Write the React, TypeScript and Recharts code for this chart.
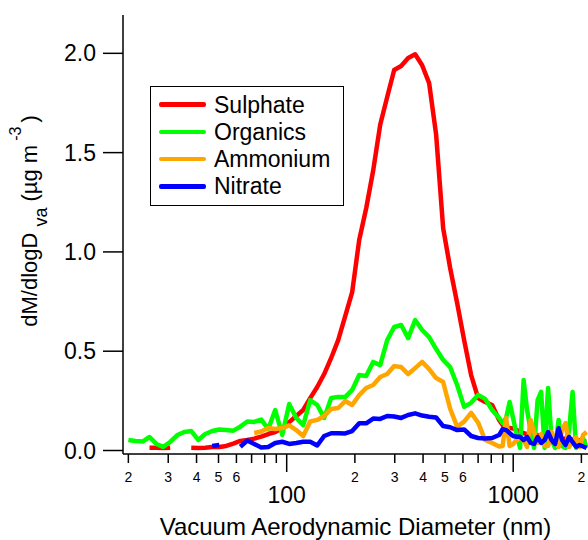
import { LineChart, Line, XAxis, YAxis, Legend, Label } from "recharts";

const FONT = "'Liberation Sans', Arial, Helvetica, sans-serif";

// vacuum aerodynamic diameter bins (nm)
const diameters = [
  20.0, 21.5, 23.1, 24.8, 26.6, 28.5, 30.6, 32.9, 35.3, 37.9,
  40.7, 43.7, 46.9, 50.4, 54.1, 58.1, 62.4, 67.0, 71.9, 77.2,
  82.9, 89.0, 95.6, 102.6, 110.2, 118.3, 127.0, 136.4, 146.4, 157.2,
  168.8, 181.3, 194.6, 209.0, 224.4, 240.9, 258.7, 277.8, 298.2, 320.2,
  343.8, 369.1, 396.3, 425.5, 456.9, 490.6, 526.8, 565.6, 607.3, 652.0,
  700.1, 751.7, 807.1, 866.6, 898.0, 930.5, 964.2, 999.0, 1035.2, 1072.7,
  1111.5, 1151.7, 1193.4, 1236.6, 1281.4, 1327.8, 1375.9, 1425.7, 1477.3, 1530.8,
  1586.2, 1643.6, 1703.1, 1764.8, 1828.7, 1894.9, 1963.5, 2034.6, 2108.3,
];

const sulphate = [
  null, null, null, 0.014, 0.014, 0.012, 0.014, null, null, 0.014,
  0.013, 0.014, 0.018, 0.018, 0.023, 0.035, 0.048, 0.053, 0.06, 0.07,
  0.083, 0.093, 0.113, 0.143, 0.174, 0.204, 0.264, 0.32, 0.385, 0.466,
  0.556, 0.677, 0.798, 1.06, 1.22, 1.41, 1.64, 1.78, 1.916, 1.936,
  1.976, 1.995, 1.94, 1.85, 1.59, 1.12, 0.919, 0.743, 0.556, 0.38,
  0.264, 0.244, 0.229, 0.154, 0.128, 0.118, 0.113, 0.111, 0.103, 0.093,
  0.088, 0.082, 0.085, 0.075, 0.078, 0.07, 0.072, 0.065, 0.068, 0.06,
  0.062, 0.058, 0.06, 0.055, 0.056, 0.05, 0.052, 0.045, 0.047,
];

const organics = [
  0.053, 0.048, 0.045, 0.068, 0.033, 0.018, 0.043, 0.078, 0.093, 0.098,
  0.053, 0.083, 0.098, 0.106, 0.103, 0.1, 0.12, 0.146, 0.144, 0.156,
  0.108, 0.204, 0.078, 0.234, 0.164, 0.128, 0.254, 0.229, 0.164, 0.264,
  0.27, 0.269, 0.305, 0.38, 0.375, 0.446, 0.43, 0.556, 0.622, 0.632,
  0.566, 0.657, 0.607, 0.571, 0.511, 0.456, 0.42, 0.33, 0.22, 0.24,
  0.28, 0.26, 0.204, 0.164, 0.138, 0.164, 0.244, 0.164, 0.078, 0.013,
  0.355, 0.204, 0.103, 0.013, 0.254, 0.295, 0.013, 0.315, 0.053, 0.013,
  0.154, 0.023, 0.013, 0.103, 0.295, 0.013, 0.028, 0.063, 0.013,
];

const ammonium = [
  null, null, null, null, null, null, null, null, null, null,
  null, null, null, null, null, null, null, null, 0.088, 0.096,
  0.113, 0.108, 0.113, 0.126, 0.103, 0.073, 0.146, 0.154, 0.174, 0.209,
  0.214, 0.249, 0.229, 0.279, 0.315, 0.33, 0.37, 0.385, 0.425, 0.42,
  0.385, 0.415, 0.446, 0.41, 0.365, 0.345, 0.21, 0.12, 0.145, 0.19,
  0.14, 0.053, 0.038, 0.02, 0.023, 0.164, 0.023, 0.033, 0.053, 0.063,
  0.053, 0.018, 0.154, 0.093, 0.038, 0.083, 0.023, 0.023, 0.093, 0.053,
  0.018, 0.103, 0.138, 0.018, 0.043, 0.068, 0.018, 0.078, 0.093,
];

const nitrate = [
  null, null, null, null, null, null, null, null, null, null,
  null, null, 0.023, 0.028, null, null, 0.019, 0.05, 0.033, 0.015,
  0.018, 0.038, 0.044, 0.033, 0.038, 0.044, 0.044, 0.025, 0.073, 0.087,
  0.087, 0.086, 0.098, 0.137, 0.137, 0.161, 0.159, 0.174, 0.171, 0.164,
  0.179, 0.187, 0.176, 0.17, 0.166, 0.123, 0.117, 0.103, 0.106, 0.073,
  0.063, 0.061, 0.063, 0.078, 0.108, 0.103, 0.088, 0.073, 0.069, 0.069,
  0.053, 0.068, 0.038, 0.033, 0.068, 0.038, 0.053, 0.093, 0.053, 0.033,
  0.112, 0.053, 0.028, 0.068, 0.043, 0.019, 0.028, 0.02, 0.013,
];

const series = [
  { key: "sulphate", name: "Sulphate", color: "#ff0000" },
  { key: "organics", name: "Organics", color: "#00ff00" },
  { key: "ammonium", name: "Ammonium", color: "#ffa500" },
  { key: "nitrate", name: "Nitrate", color: "#0000ff" },
];

const xTicks = [20, 30, 40, 50, 60, 70, 80, 90, 100, 200, 300, 400, 500, 600, 700, 800, 900, 1000, 2000];
const yTicks = [0, 0.5, 1, 1.5, 2];

const rows = diameters.map((d, i) => ({
  d,
  sulphate: sulphate[i],
  organics: organics[i],
  ammonium: ammonium[i],
  nitrate: nitrate[i],
}));

// log axis tick: long tick + full label on decades, short tick + leading digit otherwise
function DiameterTick({ x, y, payload }: any) {
  const v = payload.value;
  const exp = Math.floor(Math.log10(v) + 1e-9);
  const lead = Math.round(v / Math.pow(10, exp));
  const major = lead === 1;
  const label = major ? String(v) : lead <= 6 ? String(lead) : "";
  return (
    <g>
      <line x1={x} x2={x} y1={y} y2={y + (major ? 18 : 9)} stroke="#000" strokeWidth={1.5} />
      {label && (
        <text
          x={x}
          y={y + (major ? 49 : 28)}
          textAnchor="middle"
          fontSize={major ? 23 : 14}
          fontFamily={FONT}
          fill="#000"
        >
          {label}
        </text>
      )}
    </g>
  );
}

function LegendBox() {
  return (
    <div
      style={{
        position: "relative",
        width: 194,
        height: 120,
        boxSizing: "border-box",
        border: "1.5px solid #000",
        background: "#fff",
        fontFamily: FONT,
      }}
    >
      {series.map((s, i) => {
        const cy = 17.5 + i * 27.3;
        return (
          <div key={s.key}>
            <div
              style={{
                position: "absolute",
                left: 8,
                top: cy - 2.25,
                width: 47,
                height: 4.5,
                borderRadius: 2,
                background: s.color,
              }}
            />
            <div
              style={{
                position: "absolute",
                left: 63,
                top: cy - 14,
                height: 28,
                lineHeight: "28px",
                fontSize: 23,
                color: "#000",
                whiteSpace: "nowrap",
              }}
            >
              {s.name}
            </div>
          </div>
        );
      })}
    </div>
  );
}

export default function App() {
  return (
    <div style={{ position: "absolute", left: 0, top: 0, width: 588, height: 540, background: "#fff", fontFamily: FONT }}>
      <LineChart width={588} height={540} data={rows} margin={{ top: 15, right: 0, bottom: 0, left: 0 }}>
        <XAxis
          dataKey="d"
          type="number"
          scale="log"
          domain={[18.94, 2139]}
          allowDataOverflow
          ticks={xTicks}
          interval={0}
          tick={<DiameterTick />}
          tickLine={false}
          tickSize={0}
          tickMargin={0}
          height={86}
          axisLine={{ stroke: "#000", strokeWidth: 1.5 }}
        >
          <Label
            content={() => (
              <text x={355.5} y={535} textAnchor="middle" fontSize={24} fontFamily={FONT} fill="#000">
                Vacuum Aerodynamic Diameter (nm)
              </text>
            )}
          />
        </XAxis>
        <YAxis
          type="number"
          domain={[-0.0176, 2.193]}
          allowDataOverflow
          ticks={yTicks}
          interval={0}
          width={123}
          tickSize={20}
          tickMargin={7}
          tickFormatter={(v: number) => v.toFixed(1)}
          tick={{ fill: "#000", fontSize: 23, fontFamily: FONT }}
          tickLine={{ stroke: "#000", strokeWidth: 1.5 }}
          axisLine={{ stroke: "#000", strokeWidth: 1.5 }}
        >
          <Label
            content={() => (
              <text
                transform="rotate(-90)"
                x={-221}
                y={37}
                textAnchor="middle"
                fontSize={22}
                fontFamily={FONT}
                fill="#000"
              >
                dM/dlogD
                <tspan dx={6} dy={10} fontSize={18}>va</tspan>
                <tspan dy={-10}> (µg m</tspan>
                <tspan dx={4} dy={-16} fontSize={16}>-3</tspan>
                <tspan dx={4} dy={16}>)</tspan>
              </text>
            )}
          />
        </YAxis>
        <Legend
          layout="vertical"
          align="center"
          verticalAlign="middle"
          wrapperStyle={{ left: 150, top: 86, width: 194, height: 120 }}
          content={() => <LegendBox />}
        />
        {series.map((s) => (
          <Line
            key={s.key}
            dataKey={s.key}
            name={s.name}
            type="linear"
            stroke={s.color}
            strokeWidth={4.5}
            strokeLinejoin="round"
            dot={false}
            activeDot={false}
            connectNulls={false}
            isAnimationActive={false}
          />
        ))}
      </LineChart>
    </div>
  );
}
